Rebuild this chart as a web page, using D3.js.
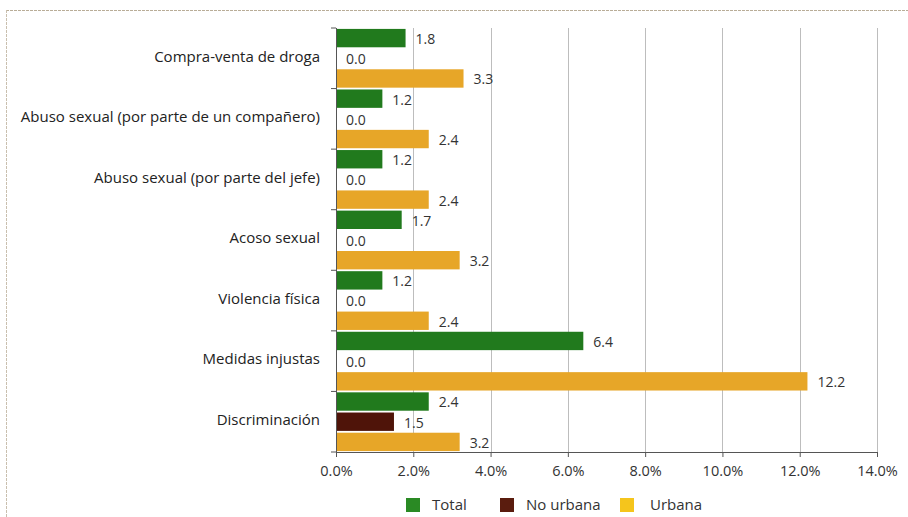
<!DOCTYPE html>
<html>
<head>
<meta charset="utf-8">
<script src="https://cdn.jsdelivr.net/npm/d3@7"></script>
<style>
  html, body { margin: 0; padding: 0; background: #ffffff; }
  svg { display: block; font-family: "Open Sans", "Noto Sans", sans-serif; }
</style>
</head>
<body>
<svg id="chart" width="908" height="517"></svg>
<script>
// Categories, top to bottom
const categories = [
  "Compra-venta de droga",
  "Abuso sexual (por parte de un compañero)",
  "Abuso sexual (por parte del jefe)",
  "Acoso sexual",
  "Violencia física",
  "Medidas injustas",
  "Discriminación"
];
const seriesNames = ["Total", "No urbana", "Urbana"];
const totalValues    = [1.8, 1.2, 1.2, 1.7, 1.2, 6.4, 2.4];
const noUrbanaValues = [0.0, 0.0, 0.0, 0.0, 0.0, 0.0, 1.5];
const urbanaValues   = [3.3, 2.4, 2.4, 3.2, 2.4, 12.2, 3.2];
const xTicks = [0, 2, 4, 6, 8, 10, 12, 14];

const barColors = ["#217a1d", "#4f1409", "#e7a628"];
const legendColors = ["#2a8a24", "#5a1c0e", "#f5c51c"];

const svg = d3.select("#chart");
const margin = { top: 28, left: 336, right: 31, bottom: 65 };
const W = 908, H = 517;
const plotW = W - margin.left - margin.right;
const plotH = H - margin.top - margin.bottom;

// page frame
svg.append("line").attr("x1", 6).attr("x2", 908).attr("y1", 10.5).attr("y2", 10.5)
  .attr("stroke", "#b9ad98").attr("stroke-width", 1).attr("stroke-dasharray", "3,1");
svg.append("line").attr("x1", 6.5).attr("x2", 6.5).attr("y1", 10).attr("y2", 517)
  .attr("stroke", "#c9bfae").attr("stroke-width", 1).attr("stroke-dasharray", "3,1");

const x = d3.scaleLinear().domain([0, 14]).range([margin.left, margin.left + plotW]);
const y0 = d3.scaleBand().domain(categories).range([margin.top, margin.top + plotH]).padding(0);
const y1 = d3.scaleBand().domain(seriesNames).range([0, y0.bandwidth()]).paddingInner(0.09).paddingOuter(0.045);

// gridlines
svg.append("g").selectAll("line").data(xTicks.slice(1)).join("line")
  .attr("x1", d => Math.round(x(d)) + 0.5).attr("x2", d => Math.round(x(d)) + 0.5)
  .attr("y1", margin.top).attr("y2", margin.top + plotH)
  .attr("stroke", "#bdbdbd").attr("stroke-width", 1);

const rows = categories.map((c, i) => ({
  cat: c,
  vals: [totalValues[i], noUrbanaValues[i], urbanaValues[i]]
}));

const groups = svg.append("g").selectAll("g").data(rows).join("g")
  .attr("transform", d => `translate(0,${y0(d.cat)})`);

groups.selectAll("rect").data(d => d.vals.map((v, k) => ({ v, s: seriesNames[k], k })))
  .join("rect")
  .attr("x", x(0))
  .attr("y", d => y1(d.s))
  .attr("width", d => x(d.v) - x(0))
  .attr("height", y1.bandwidth())
  .attr("fill", d => barColors[d.k]);

groups.selectAll("text").data(d => d.vals.map((v, k) => ({ v, s: seriesNames[k], k })))
  .join("text")
  .attr("x", d => x(d.v) + 10)
  .attr("y", d => y1(d.s) + y1.bandwidth() / 2 + 1)
  .attr("dy", "0.35em")
  .attr("font-size", 14)
  .attr("fill", "#333")
  .text(d => d.v.toFixed(1));

// y axis with ticks between groups
const yAxisG = svg.append("g");
yAxisG.append("line").attr("x1", x(0) + 0.5).attr("x2", x(0) + 0.5)
  .attr("y1", margin.top).attr("y2", margin.top + plotH).attr("stroke", "#555");
yAxisG.selectAll("line.tk").data(d3.range(categories.length + 1)).join("line").attr("class", "tk")
  .attr("x1", x(0) - 5).attr("x2", x(0))
  .attr("y1", i => margin.top + i * y0.step()).attr("y2", i => margin.top + i * y0.step())
  .attr("stroke", "#555");
yAxisG.selectAll("text").data(categories).join("text")
  .attr("x", 320)
  .attr("y", d => y0(d) + y0.bandwidth() / 2 - 2)
  .attr("dy", "0.35em")
  .attr("text-anchor", "end")
  .attr("font-size", 15)
  .attr("fill", "#222")
  .text(d => d);

// x axis
const xAxis = d3.axisBottom(x).tickValues(xTicks).tickSize(5).tickPadding(9)
  .tickFormat(d => d.toFixed(1) + "%");
const xg = svg.append("g").attr("transform", `translate(0,${margin.top + plotH})`).call(xAxis);
xg.select(".domain").attr("stroke", "#555");
xg.selectAll(".tick line").attr("stroke", "#555");
xg.selectAll(".tick text").attr("font-size", 14.5).attr("fill", "#333")
  .attr("font-family", "'Open Sans', 'Noto Sans', sans-serif");

// legend
const legendX = [406, 500, 620];
const legend = svg.append("g").selectAll("g").data(seriesNames).join("g")
  .attr("transform", (d, i) => `translate(${legendX[i]},498)`);
legend.append("rect").attr("width", 14).attr("height", 14).attr("fill", (d, i) => legendColors[i]);
legend.append("text").attr("x", (d, i) => i === 2 ? 30 : 26).attr("y", 7).attr("dy", "0.35em")
  .attr("font-size", 15).attr("fill", "#333").text(d => d);
</script>
</body>
</html>
